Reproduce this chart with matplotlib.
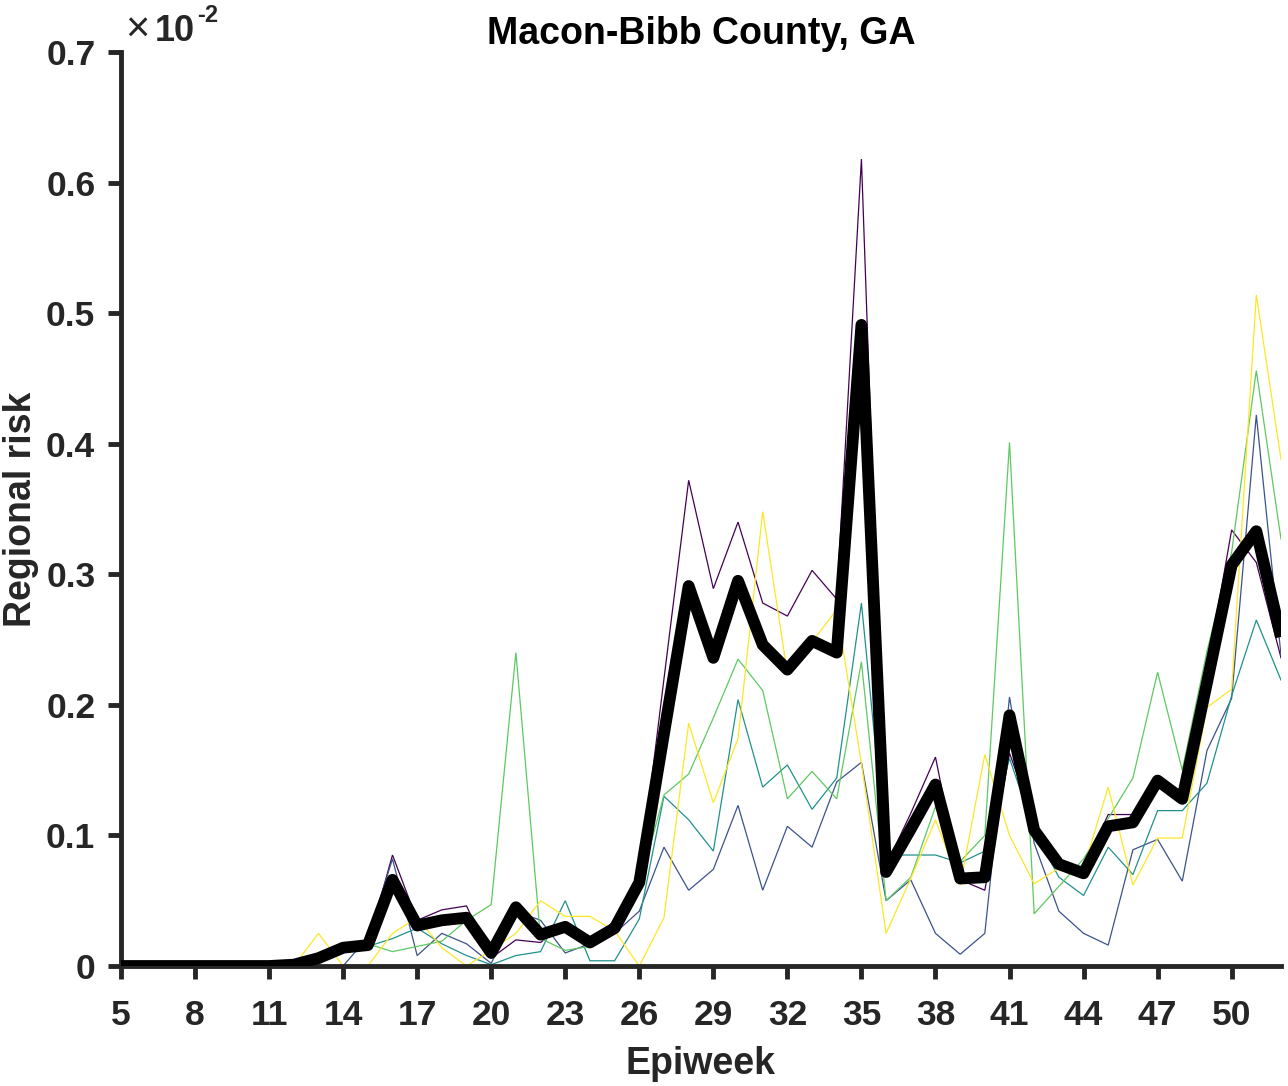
import matplotlib
matplotlib.use("Agg")
import matplotlib.pyplot as plt
import numpy as np

weeks = list(range(5, 53))

s1_purple = [0, 0, 0, 0, 0, 0, 0, 0.0, 0.005, 0.013, 0.017, 0.085, 0.035, 0.043, 0.046, 0.006,
             0.020, 0.018, 0.033, 0.016, 0.035, 0.066, 0.22, 0.372, 0.289, 0.340, 0.278, 0.268,
             0.303, 0.281, 0.618, 0.077, 0.117, 0.160, 0.066, 0.058, 0.163, 0.110, 0.081, 0.075,
             0.116, 0.116, 0.137, 0.131, 0.226, 0.334, 0.309, 0.236]
s2_blue = [0, 0, 0, 0, 0, 0, 0, 0, 0, 0, 0.022, 0.082, 0.008, 0.025, 0.017, 0.002,
           0.042, 0.035, 0.010, 0.017, 0.025, 0.042, 0.091, 0.058, 0.074, 0.123, 0.058, 0.107,
           0.091, 0.141, 0.156, 0.050, 0.066, 0.025, 0.009, 0.025, 0.206, 0.094, 0.042, 0.025,
           0.016, 0.089, 0.097, 0.065, 0.165, 0.205, 0.422, 0.238]
s3_teal = [0, 0, 0, 0, 0, 0, 0, 0.002, 0.008, 0.013, 0.015, 0.021, 0.029, 0.017, 0.008, 0.001,
           0.008, 0.011, 0.050, 0.004, 0.004, 0.036, 0.130, 0.112, 0.088, 0.204, 0.137, 0.154,
           0.120, 0.144, 0.278, 0.085, 0.085, 0.085, 0.079, 0.088, 0.159, 0.104, 0.068, 0.054,
           0.091, 0.070, 0.119, 0.119, 0.140, 0.207, 0.265, 0.219]
s4_green = [0, 0, 0, 0, 0, 0, 0, 0.004, 0.010, 0.016, 0.017, 0.011, 0.015, 0.019, 0.035, 0.047,
            0.240, 0.021, 0.012, 0.015, 0.029, 0.061, 0.131, 0.147, 0.190, 0.235, 0.211, 0.128,
            0.149, 0.128, 0.233, 0.050, 0.068, 0.122, 0.080, 0.100, 0.401, 0.040, 0.061, 0.082,
            0.113, 0.144, 0.225, 0.150, 0.241, 0.317, 0.456, 0.327]
s5_yellow = [0, 0, 0, 0, 0, 0, 0, 0, 0.025, 0, 0, 0.025, 0.037, 0.014, 0, 0.012,
             0.025, 0.050, 0.038, 0.038, 0.027, 0, 0.037, 0.186, 0.125, 0.174, 0.348, 0.224,
             0.248, 0.273, 0.155, 0.025, 0.067, 0.112, 0.062, 0.162, 0.100, 0.063, 0.075, 0.075,
             0.137, 0.062, 0.098, 0.098, 0.198, 0.212, 0.514, 0.388]
overall = [0, 0, 0, 0, 0, 0, 0, 0.001, 0.006, 0.014, 0.016, 0.066, 0.031, 0.035, 0.037, 0.010,
           0.045, 0.024, 0.030, 0.018, 0.029, 0.064, 0.178, 0.291, 0.236, 0.295, 0.246, 0.227,
           0.249, 0.240, 0.491, 0.072, 0.105, 0.139, 0.067, 0.068, 0.192, 0.104, 0.078, 0.071,
           0.107, 0.110, 0.142, 0.128, 0.217, 0.307, 0.333, 0.252]

series = [s1_purple, s2_blue, s3_teal, s4_green, s5_yellow]
colors = ["#440154", "#3b528b", "#21918c", "#5ec962", "#fde725"]

xticks = list(range(5, 51, 3))
yticks = [0, 0.1, 0.2, 0.3, 0.4, 0.5, 0.6, 0.7]
ytick_labels = ["0", "0.1", "0.2", "0.3", "0.4", "0.5", "0.6", "0.7"]

plt.rcParams['font.family'] = ['Liberation Sans', 'DejaVu Sans']
txtc = "#262626"

fig = plt.figure(figsize=(12.88, 10.86), dpi=100)
ax = fig.add_axes([121/1288, 1 - 966/1086, (1281 - 121)/1288, (966 - 52)/1086])

for s, c in zip(series, colors):
    ax.plot(weeks, s, color=c, lw=0.9, solid_joinstyle='miter', zorder=2)
ax.plot(weeks, overall, color='black', lw=8.5, solid_joinstyle='round',
        solid_capstyle='butt', zorder=3)

ax.set_xlim(5, 52)
ax.set_ylim(0, 0.7)
ax.set_xticks(xticks)
ax.set_xticklabels([str(t) for t in xticks])
ax.set_yticks(yticks)
ax.set_yticklabels(ytick_labels)

for sp in ['top', 'right']:
    ax.spines[sp].set_visible(False)
for sp in ['left', 'bottom']:
    ax.spines[sp].set_color(txtc)
    ax.spines[sp].set_linewidth(3.5)

ax.tick_params(axis='both', direction='out', length=9.5, width=3.5, color=txtc,
               labelsize=25.5, labelcolor=txtc)
ax.tick_params(axis='x', pad=14)
ax.tick_params(axis='y', pad=9)
for lbl in ax.get_xticklabels() + ax.get_yticklabels():
    lbl.set_fontweight('bold')

ax.set_xlabel("Epiweek", fontsize=27, fontweight='bold', color=txtc, labelpad=10)
ax.set_ylabel("Regional risk", fontsize=27, fontweight='bold', color=txtc, labelpad=5)
ax.set_title("Macon-Bibb County, GA", fontsize=27, fontweight='bold', color='black', pad=5)

# exponent marker
fig.text(125/1288, 1 - 42/1086, "\u00d7", fontsize=30, color=txtc, ha='left', va='baseline')
fig.text(155/1288, 1 - 41/1086, "10", fontsize=26, fontweight='bold', color=txtc,
         ha='left', va='baseline')
fig.text(197/1288, 1 - 22/1086, "-2", fontsize=17, fontweight='bold', color=txtc,
         ha='left', va='baseline')

fig.savefig("out.png", dpi=100)
